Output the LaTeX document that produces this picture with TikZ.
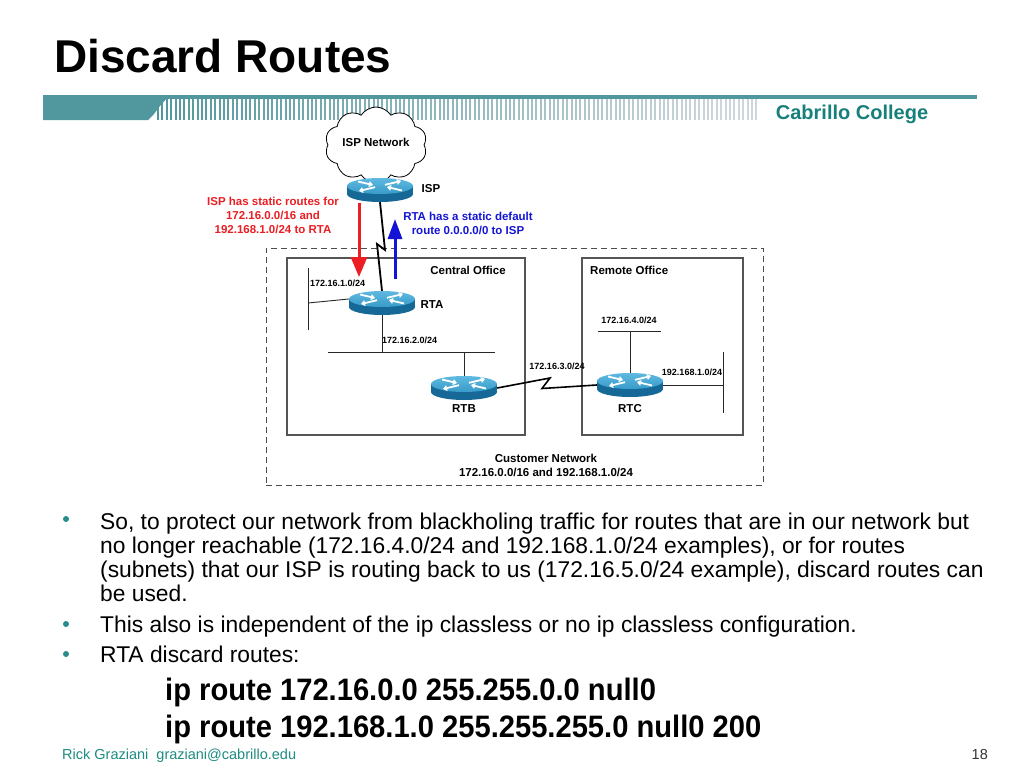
\documentclass[tikz,border=0pt]{standalone}
\usepackage{fontspec}
\setmainfont{Liberation Sans}
\newfontfamily\cmdfont[FakeStretch=0.94]{Liberation Sans}
\usetikzlibrary{shapes.symbols,arrows.meta}
\definecolor{hdr}{RGB}{80,152,158}
\definecolor{stripeend}{RGB}{205,214,218}
\definecolor{cab}{RGB}{22,128,122}
\definecolor{bul}{RGB}{40,140,140}
\definecolor{foot}{RGB}{30,140,130}
\definecolor{rtop}{RGB}{55,155,200}
\definecolor{rtoplt}{RGB}{95,185,225}
\definecolor{rside}{RGB}{22,105,150}
\definecolor{boxc}{RGB}{85,85,85}
\definecolor{linec}{RGB}{40,40,40}
\definecolor{redc}{RGB}{235,30,35}
\definecolor{bluec}{RGB}{20,20,215}
\newcommand\fsz[2]{\fontsize{#1pt}{#2pt}\selectfont}
\newcommand\router[3]{%
  \fill[rside] (#2-33,#3) rectangle (#2+33,#3+8);
  \fill[rside] (#2,#3+8) ellipse [x radius=33,y radius=8];
  \shade[top color=rtoplt,bottom color=rtop] (#2,#3) ellipse [x radius=33,y radius=8];
  \draw[white,line width=1.8pt,-{Triangle[length=4pt,width=6pt]}] (#2-22,#3-4.5) -- (#2-7,#3-1);
  \draw[white,line width=1.8pt,-{Triangle[length=4pt,width=6pt]}] (#2+22,#3+4.5) -- (#2+7,#3+1);
  \draw[white,line width=1.8pt,-{Triangle[length=4pt,width=6pt]}] (#2-5,#3+1.2) -- (#2-21,#3+5);
  \draw[white,line width=1.8pt,-{Triangle[length=4pt,width=6pt]}] (#2+5,#3-1.2) -- (#2+21,#3-5);
  \node[routerbox] (#1) at (#2,#3+4) {};
}
\tikzset{
  routerbox/.style={inner sep=0pt,minimum width=66pt,minimum height=24pt},
  lbl/.style={font=\bfseries\fsz{11.5}{14}, inner sep=0pt, align=center},
  net/.style={font=\bfseries\fsz{9}{11}, inner sep=0pt},
  wire/.style={linec,line width=0.9pt},
  officebox/.style={draw=boxc,line width=1.2pt,inner sep=0pt},
  custbox/.style={draw=black!70,line width=1pt,dash pattern=on 6pt off 4pt,inner sep=0pt},
  bodytxt/.style={font=\fsz{22.8}{24}, anchor=base west, inner sep=0pt},
  cmd/.style={font=\cmdfont\bfseries\fsz{31}{36}, anchor=base west, inner sep=0pt},
  bulletdot/.style={circle,fill=bul,inner sep=0pt,minimum size=6pt}
}
\begin{document}
\begin{tikzpicture}[x=1pt,y=-1pt]
\useasboundingbox (0,0) rectangle (1024,768);
\fill[white] (0,0) rectangle (1024,768);

% title
\node[font=\bfseries\fsz{46}{50}, anchor=base west, inner sep=0pt] (title) at (54,72) {Discard Routes};

% header bar
\fill[hdr] (43,95) rectangle (977,99);
\fill[hdr] (43,97) -- (168,97) -- (160,106) -- (154,114) -- (148,120) -- (43,120) -- cycle;
\foreach \i in {0,...,136} {
  \pgfmathsetmacro\p{max(0,100-\i*0.78)}
  \draw[hdr!\p!stripeend, line width=1.9pt] (158+\i*4.4,99) -- (158+\i*4.4,120);
}
\node[font=\bfseries\fsz{20}{22}, text=cab, inner sep=0pt] (cabrillo) at (852,114) {Cabrillo College};

% customer network and offices
\node[custbox, minimum width=497pt, minimum height=237pt] (cust) at (514.5,366.5) {};
\node[officebox, minimum width=238pt, minimum height=177pt] (central) at (406,346.5) {};
\node[officebox, minimum width=161pt, minimum height=177pt] (remote) at (662.5,346.5) {};
\node[lbl] (centrallbl) at (468,270) {Central Office};
\node[lbl, anchor=west] (remotelbl) at (590,270) {Remote Office};
\node[lbl] (custlbl) at (546,465) {Customer Network\\172.16.0.0/16 and 192.168.1.0/24};

% cloud
\node[cloud, cloud puffs=10, cloud puff arc=115, aspect=1.4, draw=black, line width=0.8pt, fill=white,
      minimum width=102pt, minimum height=76pt, font=\bfseries\fsz{11.5}{14}] (cloud) at (376,145) {};
\node[lbl] (cloudlbl) at (376,142) {ISP Network};

% routers
\router{ISP}{380}{186}
\router{RTA}{382}{299}
\router{RTB}{464}{384}
\router{RTC}{630}{381}
\node[lbl] (isplbl) at (431,189) {ISP};
\node[lbl] (rtalbl) at (432,305) {RTA};
\node[lbl] (rtblbl) at (464,409) {RTB};
\node[lbl] (rtclbl) at (630,409) {RTC};

% LAN segments
\coordinate (l1t) at (308,268);
\coordinate (l1b) at (308,330);
\draw[wire] (l1t) -- (l1b);
\draw[wire] ([yshift=4pt]RTA.west) -- (l1t |- RTA.center) ;
\node[net, anchor=west] (n1) at (310,283) {172.16.1.0/24};

\coordinate (l2l) at (328,352);
\coordinate (l2r) at (495,352);
\draw[wire] (l2l) -- (l2r);
\draw[wire] (RTA.south) -- (RTA.south |- l2l);
\draw[wire] (RTB.north |- l2l) -- (RTB.north);
\node[net, anchor=west] (n2) at (382,340) {172.16.2.0/24};

\coordinate (l4l) at (598,331);
\coordinate (l4r) at (661,331);
\draw[wire] (l4l) -- (l4r);
\draw[wire] (RTC.north) -- (RTC.north |- l4l);
\node[net] (n4) at (629,320) {172.16.4.0/24};

\coordinate (l5t) at (723,352);
\coordinate (l5b) at (723,413);
\draw[wire] (l5t) -- (l5b);
\draw[wire] (RTC.east) -- (l5t |- RTC.east);
\node[net] (n5) at (692,372) {192.168.1.0/24};

% serial links
\draw[black, line width=1.6pt, line join=miter] (RTB.east) -- (550,378) -- (542,388.5) -- (RTC.west);
\node[net] (n3) at (557,366) {172.16.3.0/24};
\draw[black, line width=1.8pt, line join=miter] (ISP.south) -- (385,250) -- (377,244) -- (RTA.north);

% route arrows
\coordinate (rs) at (359,203);
\coordinate (re) at (359,277);
\draw[redc, line width=3pt, -{Triangle[length=20pt,width=16pt]}] (rs) -- (re);
\coordinate (bs) at (395,279);
\coordinate (be) at (395,219);
\draw[bluec, line width=3pt, -{Triangle[length=20pt,width=14pt]}] (bs) -- (be);
\node[lbl, text=redc] (redtxt) at (273,215) {ISP has static routes for\\172.16.0.0/16 and\\192.168.1.0/24 to RTA};
\node[lbl, text=bluec] (bluetxt) at (468,223) {RTA has a static default\\route 0.0.0.0/0 to ISP};

% bullets
\node[bulletdot] (b1) at (66,519) {};
\node[bulletdot] (b2) at (66,624) {};
\node[bulletdot] (b3) at (66,654) {};
\node[bodytxt] (t1a) at (100,529) {So, to protect our network from blackholing traffic for routes that are in our network but};
\node[bodytxt] (t1b) at (100,553) {no longer reachable (172.16.4.0/24 and 192.168.1.0/24 examples), or for routes};
\node[bodytxt] (t1c) at (100,577) {(subnets) that our ISP is routing back to us (172.16.5.0/24 example), discard routes can};
\node[bodytxt] (t1d) at (100,601) {be used.};
\node[bodytxt] (t2) at (100,632) {This also is independent of the ip classless or no ip classless configuration.};
\node[bodytxt] (t3) at (100,662) {RTA discard routes:};
\node[cmd] (c1) at (165,700) {ip route 172.16.0.0 255.255.0.0 null0};
\node[cmd] (c2) at (165,737) {ip route 192.168.1.0 255.255.255.0 null0 200};

% footer
\node[font=\fsz{14.5}{16}, text=foot, anchor=base west, inner sep=0pt] (foot) at (62,759) {Rick Graziani\ \ graziani@cabrillo.edu};
\node[font=\fsz{14.5}{16}, text=black!80, anchor=base east, inner sep=0pt] (page) at (988,759) {18};
\end{tikzpicture}
\end{document}
